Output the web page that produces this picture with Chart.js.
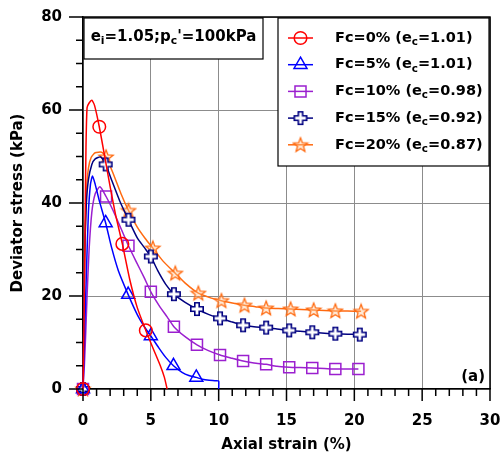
<!DOCTYPE html>
<html>
<head>
<meta charset="utf-8">
<script src="https://cdn.jsdelivr.net/npm/chart.js@4.4.0/dist/chart.umd.min.js"></script>
<style>
    body { margin: 0; background: #fff; }
</style>
</head>
<body>
<canvas id="stressChart" width="502" height="453"></canvas>
<script>
// Fc = 0%
var strain0 = [0, 0.08, 0.15, 0.22, 0.3, 0.45, 0.65, 0.85, 1.2, 1.6, 2.0, 2.4, 2.9, 3.45, 4.0, 4.63, 5.2, 5.7, 6.0, 6.2];
var stress0 = [0, 15, 35, 52, 60.5, 61.5, 62.1, 61, 56.4, 50, 43.5, 37.5, 31.2, 23.5, 17.5, 12.6, 8.5, 5, 2.5, 0];
var marks0 = [0, 1.2, 2.9, 4.63];

// Fc = 5%
var strain5 = [0, 0.1, 0.25, 0.4, 0.55, 0.7, 0.9, 1.2, 1.67, 2.1, 2.6, 3.33, 4.0, 4.5, 5.0, 5.6, 6.1, 6.67, 7.3, 7.8, 8.35, 8.8, 9.3, 9.8, 10.0, 10.0];
var stress5 = [0, 10, 25, 38, 44, 45.8, 44, 40.5, 35.7, 30.5, 25.5, 20.3, 16, 13.5, 11.4, 8.8, 6.8, 5.0, 3.6, 2.9, 2.5, 2.1, 1.9, 1.8, 1.7, 0];
var marks5 = [0, 1.67, 3.33, 5.0, 6.67, 8.35];

// Fc = 10%
var strain10 = [0, 0.1, 0.2, 0.3, 0.45, 0.65, 0.9, 1.25, 1.7, 2.2, 2.8, 3.35, 3.9, 4.5, 5.0, 5.6, 6.2, 6.7, 7.5, 8.4, 9.2, 10.1, 11.0, 11.8, 12.6, 13.5, 14.3, 15.2, 16.0, 16.9, 17.8, 18.6, 19.5, 20.3];
var stress10 = [0, 5, 12, 20, 30, 38, 42, 43.5, 41.4, 38.5, 34.5, 30.8, 27.5, 24, 20.9, 18, 15.5, 13.4, 11.3, 9.5, 8.3, 7.3, 6.6, 6.0, 5.6, 5.3, 4.9, 4.7, 4.6, 4.5, 4.4, 4.3, 4.3, 4.3];
var marks10 = [0, 1.7, 3.35, 5.0, 6.7, 8.4, 10.1, 11.8, 13.5, 15.2, 16.9, 18.6, 20.3];

// Fc = 15%
var strain15 = [0, 0.05, 0.12, 0.25, 0.4, 0.65, 0.9, 1.3, 1.67, 2.1, 2.7, 3.35, 4.0, 4.5, 5.0, 5.5, 6.1, 6.7, 7.5, 8.4, 9.2, 10.1, 11.0, 11.8, 12.6, 13.5, 14.3, 15.2, 16.0, 16.9, 17.8, 18.6, 19.5, 20.4];
var stress15 = [0, 12, 28, 40, 45, 48.3, 49.5, 49.9, 48.3, 45, 40.5, 36.4, 32.5, 30.5, 28.5, 25.5, 22.5, 20.4, 18.7, 17.2, 16.1, 15.2, 14.4, 13.7, 13.4, 13.2, 12.9, 12.6, 12.4, 12.2, 12.0, 11.9, 11.8, 11.7];
var marks15 = [0, 1.67, 3.35, 5.0, 6.7, 8.4, 10.1, 11.8, 13.5, 15.2, 16.9, 18.6, 20.4];

// Fc = 20%
var strain20 = [0, 0.05, 0.12, 0.25, 0.4, 0.6, 0.9, 1.38, 1.7, 2.2, 2.8, 3.35, 4.0, 4.6, 5.15, 5.9, 6.8, 7.6, 8.5, 9.3, 10.2, 11.0, 11.9, 12.7, 13.5, 14.4, 15.3, 16.1, 17.0, 17.8, 18.6, 19.5, 20.5];
var stress20 = [0, 12, 28, 42, 47.5, 49.8, 50.8, 50.9, 49.9, 46.5, 42, 38.4, 34.8, 32.3, 30.3, 27.5, 24.9, 22.6, 20.6, 19.7, 19.0, 18.5, 18.0, 17.7, 17.4, 17.3, 17.2, 17.1, 17.0, 16.9, 16.8, 16.75, 16.7];
var marks20 = [0, 1.7, 3.35, 5.15, 6.8, 8.5, 10.2, 11.9, 13.5, 15.3, 17.0, 18.6, 20.5];

var fcLabels = ['Fc=0%', 'Fc=5%', 'Fc=10%', 'Fc=15%', 'Fc=20%'];
var ecValues = ['1.01', '1.01', '0.98', '0.92', '0.87'];
var xTicks = [0, 5, 10, 15, 20, 25, 30];
var yTicks = [0, 20, 40, 60, 80];

var FONT = 'DejaVu Sans';

function toPoints(xs, ys) {
    return xs.map(function(x, i) { return { x: x, y: ys[i] }; });
}

// outlined plus marker
function makePlus(color) {
    var c = document.createElement('canvas');
    c.width = 16; c.height = 16;
    var g = c.getContext('2d');
    var m = 8, a = 2.2, r = 6.2;
    g.beginPath();
    g.moveTo(m - a, m - r); g.lineTo(m + a, m - r); g.lineTo(m + a, m - a);
    g.lineTo(m + r, m - a); g.lineTo(m + r, m + a); g.lineTo(m + a, m + a);
    g.lineTo(m + a, m + r); g.lineTo(m - a, m + r); g.lineTo(m - a, m + a);
    g.lineTo(m - r, m + a); g.lineTo(m - r, m - a); g.lineTo(m - a, m - a);
    g.closePath();
    g.fillStyle = '#fff';
    g.fill();
    g.lineWidth = 1.6;
    g.strokeStyle = color;
    g.stroke();
    return c;
}

// outlined five point star
function makeStar(color) {
    var c = document.createElement('canvas');
    c.width = 18; c.height = 18;
    var g = c.getContext('2d');
    var m = 9, ro = 7.4, ri = 3.2;
    g.beginPath();
    for (var k = 0; k < 10; k++) {
        var r = k % 2 === 0 ? ro : ri;
        var ang = -Math.PI / 2 + k * Math.PI / 5;
        var px = m + r * Math.cos(ang), py = m + 0.5 + r * Math.sin(ang);
        if (k === 0) g.moveTo(px, py); else g.lineTo(px, py);
    }
    g.closePath();
    g.fillStyle = 'rgba(255,200,150,0.4)';
    g.fill();
    g.lineWidth = 1.3;
    g.strokeStyle = color;
    g.stroke();
    return c;
}

var series = [
    { xs: strain0, ys: stress0, marks: marks0, color: '#ff0000', style: 'circle', radius: 6.3 },
    { xs: strain5, ys: stress5, marks: marks5, color: '#0000ff', style: 'triangle', radius: 7.5 },
    { xs: strain10, ys: stress10, marks: marks10, color: '#9b1fcf', style: 'rect', radius: 7.8 },
    { xs: strain15, ys: stress15, marks: marks15, color: '#000080', style: makePlus('#000080'), radius: 7 },
    { xs: strain20, ys: stress20, marks: marks20, color: '#ff6a10', style: makeStar('#ff6a10'), radius: 7 }
];

var datasets = series.map(function(s, i) {
    return {
        label: fcLabels[i] + ' (ec=' + ecValues[i] + ')',
        data: toPoints(s.xs, s.ys),
        borderColor: s.color,
        backgroundColor: 'transparent',
        borderWidth: 1.5,
        tension: 0.2,
        pointStyle: s.style,
        pointBorderColor: s.color,
        pointBackgroundColor: 'transparent',
        pointBorderWidth: 1.5,
        pointRadius: function(ctx) {
            return ctx.raw && s.marks.indexOf(ctx.raw.x) >= 0 ? s.radius : 0;
        },
        pointHoverRadius: 0,
        clip: false
    };
});

// draws text with subscripts, parts = [[text, isSub], ...]
function drawParts(ctx, parts, x, y, size) {
    parts.forEach(function(p) {
        ctx.font = 'bold ' + (p[1] ? size * 0.72 : size) + 'px "' + FONT + '"';
        ctx.fillText(p[0], x, p[1] ? y + size * 0.3 : y);
        x += ctx.measureText(p[0]).width;
    });
}
function partsWidth(ctx, parts, size) {
    var w = 0;
    parts.forEach(function(p) {
        ctx.font = 'bold ' + (p[1] ? size * 0.72 : size) + 'px "' + FONT + '"';
        w += ctx.measureText(p[0]).width;
    });
    return w;
}

// minor / major tick marks and top-right frame
var frameTicks = {
    id: 'frameTicks',
    afterDraw: function(chart) {
        var ctx = chart.ctx, xs = chart.scales.x, ys = chart.scales.y, a = chart.chartArea;
        ctx.save();
        ctx.strokeStyle = '#000';
        ctx.lineWidth = 1.5;
        ctx.beginPath();
        for (var v = 0; v <= 30; v++) {
            var px = xs.getPixelForValue(v);
            ctx.moveTo(px, a.bottom);
            ctx.lineTo(px, a.bottom + (v % 5 === 0 ? 12 : 7));
        }
        for (var w = 0; w <= 80; w += 5) {
            var py = ys.getPixelForValue(w);
            ctx.moveTo(a.left, py);
            ctx.lineTo(a.left - (w % 20 === 0 ? 14 : 7), py);
        }
        ctx.moveTo(a.left, a.top);
        ctx.lineTo(a.right, a.top);
        ctx.lineTo(a.right, a.bottom);
        ctx.stroke();
        ctx.restore();
    }
};

// condition box, legend and panel tag
var boxes = {
    id: 'boxes',
    afterDatasetsDraw: function(chart) {
        var ctx = chart.ctx, a = chart.chartArea;
        ctx.save();
        ctx.lineWidth = 1.2;
        ctx.strokeStyle = '#000';
        ctx.fillStyle = '#000';
        ctx.textBaseline = 'middle';

        // condition box
        var bx = a.left + 1, by = a.top + 1, bw = 179, bh = 41;
        ctx.fillStyle = '#fff';
        ctx.fillRect(bx, by, bw, bh);
        ctx.strokeRect(bx, by, bw, bh);
        ctx.fillStyle = '#000';
        var cond = [['e', false], ['i', true], ['=1.05;p', false], ['c', true], ["'=100kPa", false]];
        var cw = partsWidth(ctx, cond, 15);
        drawParts(ctx, cond, bx + (bw - cw) / 2, by + 19, 15);

        // legend box
        var lx = a.right - 212, ly = a.top + 1, lw = 211, lh = 148;
        ctx.fillStyle = '#fff';
        ctx.fillRect(lx, ly, lw, lh);
        ctx.strokeRect(lx, ly, lw, lh);
        chart.data.datasets.forEach(function(ds, i) {
            var s = series[i];
            var ry = ly + 20 + i * 26.7;
            ctx.strokeStyle = s.color;
            ctx.lineWidth = 1.5;
            ctx.beginPath();
            ctx.moveTo(lx + 10, ry);
            ctx.lineTo(lx + 35, ry);
            ctx.stroke();
            ctx.fillStyle = 'transparent';
            Chart.helpers.drawPoint(ctx, {
                pointStyle: s.style, radius: s.radius, borderWidth: 1.5, rotation: 0
            }, lx + 22.5, ry);
            ctx.fillStyle = '#000';
            drawParts(ctx, [[fcLabels[i] + ' (e', false], ['c', true], ['=' + ecValues[i] + ')', false]], lx + 57, ry, 14.5);
        });

        ctx.font = 'bold 15px "' + FONT + '"';
        ctx.textAlign = 'right';
        ctx.fillText('(a)', a.right - 5, a.bottom - 12);
        ctx.restore();
    }
};

var ctx = document.getElementById('stressChart').getContext('2d');
var stressChart = new Chart(ctx, {
    type: 'line',
    data: { datasets: datasets },
    options: {
        responsive: false,
        animation: false,
        layout: { padding: { top: 17, right: 12, left: 0, bottom: 0 } },
        plugins: {
            legend: { display: false },
            tooltip: { enabled: false }
        },
        scales: {
            x: {
                type: 'linear',
                min: 0,
                max: 30,
                afterFit: function(s) {
                    s.height = 64;
                    s.paddingLeft = 0;
                    s.paddingRight = 0;
                },
                afterBuildTicks: function(s) { s.ticks = xTicks.map(function(v) { return { value: v }; }); },
                ticks: {
                    color: '#000',
                    padding: 23,
                    font: { family: FONT, size: 15, weight: 'bold' }
                },
                grid: { color: '#8c8c8c', lineWidth: 1, drawTicks: false },
                border: { display: true, color: '#000', width: 1.5 },
                title: {
                    display: true,
                    text: 'Axial strain (%)',
                    color: '#000',
                    padding: { top: 0, bottom: 0 },
                    font: { family: FONT, size: 15, weight: 'bold', lineHeight: 1 }
                }
            },
            y: {
                min: 0,
                max: 80,
                afterFit: function(s) {
                    s.width = 83;
                    s.paddingTop = 0;
                    s.paddingBottom = 0;
                },
                afterBuildTicks: function(s) { s.ticks = yTicks.map(function(v) { return { value: v }; }); },
                ticks: {
                    color: '#000',
                    padding: 21,
                    font: { family: FONT, size: 15, weight: 'bold' }
                },
                grid: { color: '#8c8c8c', lineWidth: 1, drawTicks: false },
                border: { display: true, color: '#000', width: 1.5 },
                title: {
                    display: true,
                    text: 'Deviator stress (kPa)',
                    color: '#000',
                    padding: { top: 11, bottom: 0 },
                    font: { family: FONT, size: 15, weight: 'bold', lineHeight: 1 }
                }
            }
        }
    },
    plugins: [frameTicks, boxes]
});
</script>
</body>
</html>
